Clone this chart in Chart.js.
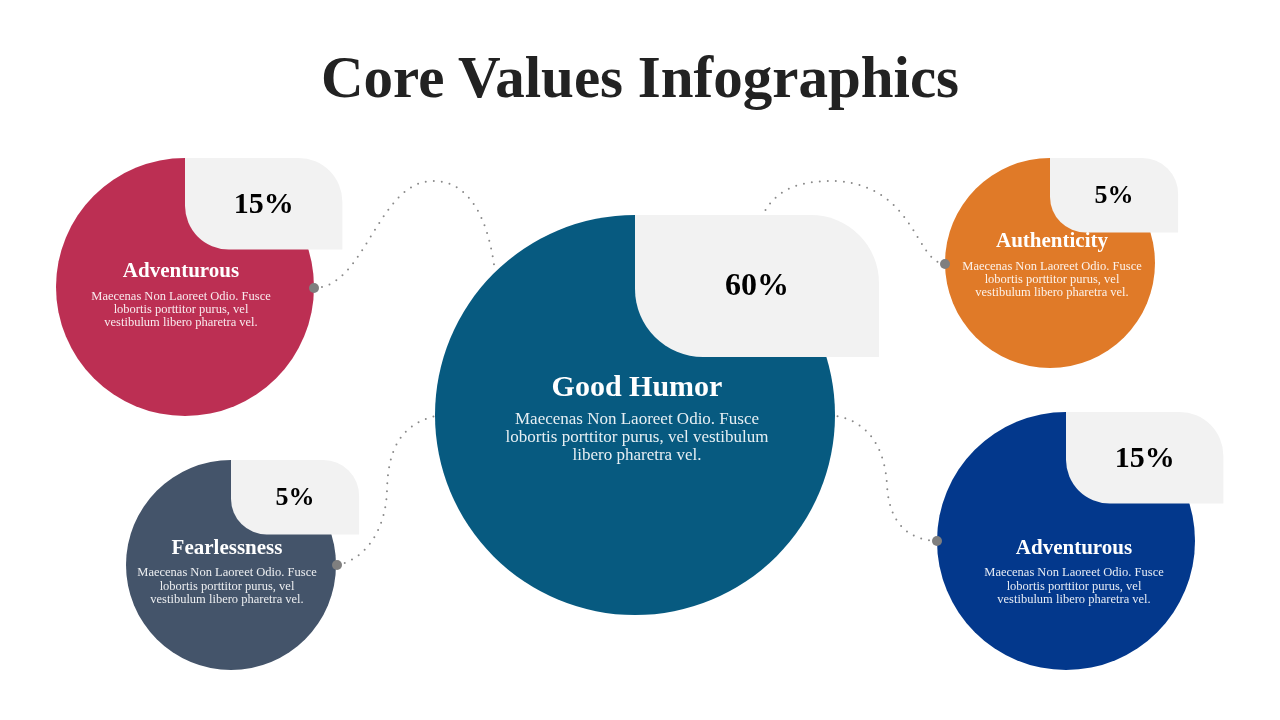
<!DOCTYPE html>
<html>
<head>
<meta charset="utf-8">
<title>Core Values Infographics</title>
<script src="https://cdn.jsdelivr.net/npm/chart.js@4.4.1/dist/chart.umd.min.js"></script>
<style>
  html, body { margin: 0; padding: 0; background: #ffffff; }
  #stage { position: relative; width: 1280px; height: 720px; overflow: hidden; }
  #stage canvas { position: absolute; left: 0; top: 0; }
  h1 {
    position: absolute; left: 0; top: 0; width: 1280px; margin: 0;
    text-align: center; font-family: "Liberation Serif", serif; font-weight: bold;
    font-size: 59px; line-height: 59px; padding-top: 48px; color: #222222;
  }
</style>
</head>
<body>
<div id="stage">
  <canvas id="valuesChart"></canvas>
  <h1>Core Values Infographics</h1>
</div>
<script>
// Data
const categories = ['Adventurous', 'Good Humor', 'Authenticity', 'Fearlessness', 'Adventurous'];
const values = [15, 60, 5, 5, 15];
const descriptions = [
  ['Maecenas Non Laoreet Odio. Fusce', 'lobortis porttitor purus, vel', 'vestibulum libero pharetra vel.'],
  ['Maecenas Non Laoreet Odio. Fusce', 'lobortis porttitor purus, vel vestibulum', 'libero pharetra vel.'],
  ['Maecenas Non Laoreet Odio. Fusce', 'lobortis porttitor purus, vel', 'vestibulum libero pharetra vel.'],
  ['Maecenas Non Laoreet Odio. Fusce', 'lobortis porttitor purus, vel', 'vestibulum libero pharetra vel.'],
  ['Maecenas Non Laoreet Odio. Fusce', 'lobortis porttitor purus, vel', 'vestibulum libero pharetra vel.']
];

// Layout (slide coordinates, 1280 x 720)
const posX = [185, 635, 1050, 231, 1066];
const posY = [287, 415, 263, 565, 541];
const radius = [129, 200, 105, 105, 129];
const titleDx = [-4, 2, 2, -4, 8];
const titleDy = [-15, -27, -21, -16, 8];
const bodyDy = [10, 5, 4, 8, 32];
const lineGap = [13, 18, 13, 13.5, 13.5];
const titleSize = [21, 30, 21, 21, 21];
const bodySize = [12.5, 17, 12.5, 12.5, 12.5];
const percentSize = [30, 32, 26, 26, 30];

// Styles
const colors = ['#BC2F53', '#075A80', '#E07A28', '#44546A', '#03388C'];
const boxColor = '#F2F2F2';
const connectorColor = '#8A8A8A';
const fontFamily = '"Liberation Serif", serif';

// Dotted connectors: start (dot end), then cubic segments [c1, c2, end]
const connectors = [
  [[314, 288], [365, 288], [378, 181], [433, 181], [475, 181], [490, 230], [495, 272]],
  [[945, 264], [915, 262], [915, 185], [835, 181], [805, 181], [770, 185], [758, 228]],
  [[337, 565], [365, 560], [386, 530], [387, 490], [388, 450], [400, 425], [435, 416]],
  [[937, 541], [910, 540], [889, 525], [887, 485], [885, 450], [870, 422], [836, 416]]
];

function pathTopRightBox(ctx, x, y, w, h, rad) {
  ctx.beginPath();
  ctx.moveTo(x, y);
  ctx.lineTo(x + w - rad, y);
  ctx.arcTo(x + w, y, x + w, y + rad, rad);
  ctx.lineTo(x + w, y + h);
  ctx.lineTo(x + rad, y + h);
  ctx.arcTo(x, y + h, x, y + h - rad, rad);
  ctx.closePath();
}

const infographicPlugin = {
  id: 'infographic',
  beforeDatasetsDraw(chart) {
    const { ctx, scales } = chart;
    const px = p => [scales.x.getPixelForValue(p[0]), scales.y.getPixelForValue(p[1])];
    ctx.save();
    ctx.strokeStyle = connectorColor;
    ctx.lineWidth = 2;
    ctx.lineCap = 'round';
    ctx.setLineDash([0, 8]);
    connectors.forEach(pts => {
      const p = pts.map(px);
      ctx.beginPath();
      ctx.moveTo(p[0][0], p[0][1]);
      for (let i = 1; i + 2 < p.length; i += 3) {
        ctx.bezierCurveTo(p[i][0], p[i][1], p[i + 1][0], p[i + 1][1], p[i + 2][0], p[i + 2][1]);
      }
      ctx.stroke();
    });
    ctx.restore();
  },
  afterDatasetsDraw(chart) {
    const { ctx, scales } = chart;
    const meta = chart.getDatasetMeta(0);
    ctx.save();
    meta.data.forEach((el, i) => {
      const x = el.x;
      const y = el.y;
      const r = el.options.radius;

      // percentage tab in the top-right quarter
      const bw = r * 1.22;
      const bh = r * 0.71;
      ctx.fillStyle = boxColor;
      pathTopRightBox(ctx, x, y - r, bw, bh, r * 0.34);
      ctx.fill();

      ctx.textAlign = 'center';
      ctx.textBaseline = 'middle';
      ctx.fillStyle = '#000000';
      ctx.font = 'bold ' + percentSize[i] + 'px ' + fontFamily;
      ctx.fillText(values[i] + '%', x + bw / 2, y - r + bh / 2 + 1);

      // heading and description
      ctx.fillStyle = '#FFFFFF';
      ctx.font = 'bold ' + titleSize[i] + 'px ' + fontFamily;
      ctx.fillText(categories[i], x + titleDx[i], y + titleDy[i]);

      ctx.fillStyle = 'rgba(255,255,255,0.9)';
      ctx.font = bodySize[i] + 'px ' + fontFamily;
      descriptions[i].forEach((line, k) => {
        ctx.fillText(line, x + titleDx[i], y + bodyDy[i] + k * lineGap[i]);
      });
    });

    // connector end dots
    ctx.fillStyle = '#7F7F7F';
    connectors.forEach(pts => {
      const cx = scales.x.getPixelForValue(pts[0][0]);
      const cy = scales.y.getPixelForValue(pts[0][1]);
      ctx.beginPath();
      ctx.arc(cx, cy, 5, 0, Math.PI * 2);
      ctx.fill();
    });
    ctx.restore();
  }
};

new Chart(document.getElementById('valuesChart'), {
  type: 'bubble',
  data: {
    labels: categories,
    datasets: [{
      label: 'Core values',
      data: values.map((v, i) => ({ x: posX[i], y: posY[i], r: radius[i], v: v })),
      backgroundColor: colors,
      borderWidth: 0,
      hoverBorderWidth: 0
    }]
  },
  options: {
    responsive: true,
    maintainAspectRatio: false,
    animation: false,
    events: [],
    layout: { padding: 0, autoPadding: false },
    clip: false,
    scales: {
      x: { type: 'linear', min: 0, max: 1280, display: false },
      y: { type: 'linear', min: 0, max: 720, reverse: true, display: false }
    },
    plugins: {
      legend: { display: false },
      tooltip: { enabled: false }
    }
  },
  plugins: [infographicPlugin]
});
</script>
</body>
</html>
